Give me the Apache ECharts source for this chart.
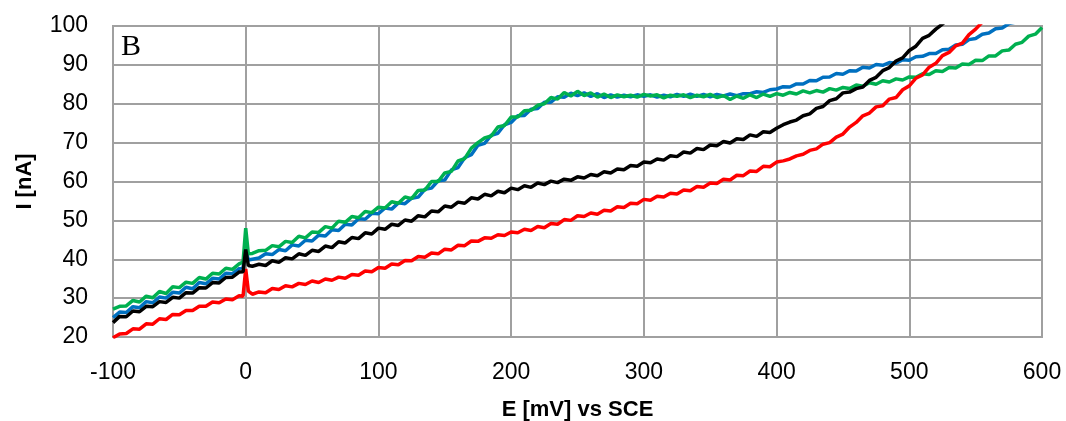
<!DOCTYPE html>
<html>
<head>
<meta charset="utf-8">
<script src="https://cdn.jsdelivr.net/npm/echarts@6/dist/echarts.min.js"></script>
<style>html,body{margin:0;padding:0;background:#fff;}#c{width:1066px;height:421px;}</style>
</head>
<body>
<div id="c"></div>
<script>
// Potential E [mV] vs SCE
const E = [-100,-95,-90,-85,-80,-75,-70,-65,-60,-55,-50,-45,-40,-35,-30,-25,-20,-15,-10,-5,-2,0,2,
5,10,15,20,25,30,35,40,45,50,55,60,65,70,75,80,85,90,95,100,
105,110,115,120,125,130,135,140,145,150,155,160,165,170,175,180,185,190,195,200,
205,210,215,220,225,230,235,240,245,250,255,260,265,270,275,280,285,290,295,300,
305,310,315,320,325,330,335,340,345,350,355,360,365,370,375,380,385,390,395,400,
405,410,415,420,425,430,435,440,445,450,455,460,465,470,475,480,485,490,495,500,
505,510,515,520,525,530,535,540,545,550,555,560,565,570,575,580,585,590,595,600];

const black = [23.7,25.3,25.2,26.7,26.5,27.9,27.8,29.1,28.9,30.2,30.0,31.4,31.3,32.7,32.6,34.0,33.9,35.3,35.4,36.7,36.8,42.5,38.4,
38.2,38.7,38.4,39.6,39.2,40.4,40.1,41.4,41.0,42.3,42.0,43.4,43.0,44.5,44.2,45.6,45.3,46.8,46.5,48.0,
47.7,49.0,48.7,50.1,49.8,51.2,50.9,52.4,52.2,53.7,53.4,54.7,54.4,55.8,55.5,56.7,56.3,57.5,57.1,58.3,
57.9,58.9,58.5,59.6,59.2,60.1,59.7,60.6,60.3,61.2,60.9,61.8,61.5,62.5,62.2,63.2,63.0,64.1,63.9,65.0,
64.8,65.8,65.5,66.6,66.4,67.6,67.3,68.5,68.2,69.4,69.2,70.3,69.9,71.0,70.8,72.0,71.6,72.8,72.6,73.7,
74.6,75.3,75.8,76.9,77.4,78.8,79.3,80.8,81.3,82.8,83.0,83.9,84.3,86.0,86.8,88.5,89.3,91.0,91.8,93.7,
94.8,96.8,97.6,99.2,100.5,102.0];

const red = [19.8,20.8,20.9,22.1,22.0,23.4,23.3,24.7,24.5,25.8,25.7,26.8,26.8,27.9,27.9,29.0,28.8,29.8,29.6,30.6,30.5,37.5,31.8,
31.0,31.6,31.4,32.5,32.2,33.2,32.9,33.8,33.5,34.4,34.0,34.9,34.6,35.4,35.1,36.1,35.9,37.0,36.8,37.9,
37.7,38.8,38.6,39.7,39.6,40.7,40.5,41.6,41.4,42.6,42.4,43.6,43.5,44.7,44.6,45.5,45.4,46.3,46.1,47.0,
46.8,47.7,47.4,48.4,48.1,49.2,49.0,50.2,50.0,51.2,51.0,51.9,51.6,52.6,52.4,53.5,53.3,54.4,54.3,55.4,
55.2,56.2,56.0,57.0,56.8,57.8,57.6,58.7,58.5,59.6,59.5,60.6,60.4,61.6,61.5,62.7,62.6,63.9,63.8,65.0,
65.3,65.8,66.6,67.0,68.0,68.4,69.6,70.0,71.4,72.2,74.0,75.2,76.9,77.6,79.2,79.5,81.2,81.6,83.6,84.6,
86.6,87.4,89.4,90.4,92.4,93.2,94.9,95.6,97.8,99.2,101.0,102.5];

const blue = [25.0,26.4,26.3,27.8,27.5,29.1,28.8,30.3,30.0,31.5,31.3,32.8,32.4,34.0,33.7,35.1,34.9,36.4,36.3,37.6,37.9,42.5,39.8,
40.0,40.3,41.4,41.2,42.5,42.2,43.7,43.4,44.9,44.7,46.2,46.0,47.6,47.4,49.0,48.8,50.4,50.3,51.8,51.7,
53.2,52.9,54.5,54.3,55.7,56.0,58.0,58.3,60.2,60.4,63.0,63.6,66.1,66.9,69.3,69.8,71.9,72.4,74.6,75.2,
76.9,77.0,78.6,78.8,80.4,80.4,81.8,81.7,82.7,82.1,82.8,81.9,82.6,81.6,82.3,81.7,82.2,81.8,82.3,81.9,
82.3,81.7,82.2,81.8,82.4,81.9,82.5,81.9,82.4,81.8,82.4,82.0,82.5,82.1,82.6,82.6,83.1,82.9,83.6,83.8,
84.4,84.3,85.1,85.1,86.0,85.9,86.8,86.9,87.8,87.6,88.5,88.4,89.4,89.2,90.1,89.9,90.6,90.4,91.3,91.2,
92.1,92.2,92.9,92.9,93.9,94.0,95.1,95.3,96.5,96.8,97.9,98.2,99.3,99.5,100.6,101.0];

const green = [27.2,27.9,28.0,29.4,29.0,30.5,30.1,31.7,31.2,32.9,32.7,34.1,33.8,35.3,34.9,36.4,36.2,37.7,37.4,38.8,39.3,48.0,41.4,
41.5,42.2,42.3,43.5,43.2,44.6,44.3,45.9,45.5,47.0,46.9,48.4,48.0,49.8,49.5,51.0,50.7,52.3,52.0,53.4,
53.2,54.8,54.4,56.0,55.6,57.7,57.8,60.0,60.0,62.2,62.6,65.3,65.9,68.6,70.0,71.2,71.7,74.0,74.4,76.6,
76.6,78.2,78.3,79.6,80.0,81.6,81.2,82.9,82.0,83.2,82.1,82.8,81.7,82.5,81.6,82.3,81.8,82.2,81.7,82.4,
82.0,82.3,81.5,82.2,81.9,82.3,81.6,82.2,81.8,82.4,81.6,82.1,81.1,82.0,81.4,82.3,81.6,82.5,81.9,82.6,
82.2,82.9,82.5,83.3,82.8,83.4,83.0,83.9,83.5,84.2,83.9,84.8,84.5,85.4,85.0,85.9,85.6,86.4,86.1,86.9,
86.8,87.7,87.5,88.5,88.3,89.3,89.2,90.2,90.1,91.2,91.1,92.3,92.3,93.6,93.8,95.3,95.8,97.4,97.9,99.6];

const xTicks = {min: -100, max: 600, step: 100};
const yTicks = {min: 20, max: 100, step: 10};

function pairs(arr) { return arr.map((v, i) => [E[i], v]); }

const chart = echarts.init(document.getElementById('c'), null, {renderer: 'canvas'});
const gridColor = '#a0a0a0';
const font = '"Liberation Sans", Arial, sans-serif';
const mk = (name, color, arr) => ({
  name, type: 'line', data: pairs(arr), showSymbol: false, symbol: 'none',
  lineStyle: {color, width: 3.5}, itemStyle: {color}, clip: true, animation: false
});
chart.setOption({
  animation: false,
  grid: {left: 113, right: 24, top: 26, bottom: 84, show: true, borderColor: gridColor, borderWidth: 2,
         containLabel: false, outerBoundsMode: 'none'},
  xAxis: {
    type: 'value', min: xTicks.min, max: xTicks.max, interval: xTicks.step,
    name: 'E [mV] vs SCE', nameLocation: 'middle', nameGap: 62,
    nameTextStyle: {fontFamily: font, fontSize: 22, fontWeight: 'bold', color: '#000'},
    axisLine: {show: true, lineStyle: {color: gridColor, width: 2}},
    axisTick: {show: false},
    axisLabel: {fontFamily: font, fontSize: 23, color: '#000', margin: 24},
    splitLine: {show: true, lineStyle: {color: gridColor, width: 2}}
  },
  yAxis: {
    type: 'value', min: yTicks.min, max: yTicks.max, interval: yTicks.step,
    name: 'I [nA]', nameLocation: 'middle', nameGap: 77, nameRotate: 90,
    nameTextStyle: {fontFamily: font, fontSize: 22, fontWeight: 'bold', color: '#000'},
    axisLine: {show: true, lineStyle: {color: gridColor, width: 2}},
    axisTick: {show: false},
    axisLabel: {fontFamily: font, fontSize: 23, color: '#000', margin: 25},
    splitLine: {show: true, lineStyle: {color: gridColor, width: 2}}
  },
  graphic: [{
    type: 'text', left: 121, top: 32,
    style: {text: 'B', font: '30px "Liberation Serif", "Times New Roman", serif', fill: '#000'}
  }],
  series: [
    mk('blue', '#0070c0', blue),
    mk('green', '#00b050', green),
    mk('red', '#ff0000', red),
    mk('black', '#000000', black)
  ]
});
</script>
</body>
</html>
